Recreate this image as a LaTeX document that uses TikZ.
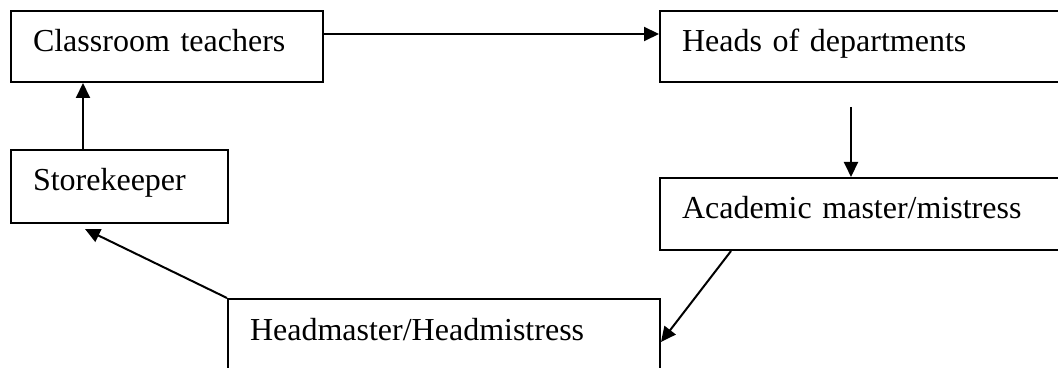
\documentclass[tikz,border=0pt]{standalone}
\usepackage{fontspec}
\setmainfont{Liberation Serif}
\usetikzlibrary{arrows.meta,positioning}

\begin{document}
\begin{tikzpicture}[x=0.5pt,y=-0.5pt,>={Triangle[length=7.5pt,width=7pt]},
                    line width=1pt,font=\fontsize{16}{19}\selectfont]
  \tikzstyle{box}=[draw,rectangle,anchor=north west,inner xsep=11pt,inner ysep=0pt,
                   text height=20.5pt,text depth=15pt,align=left]

  \clip (0,0) rectangle (1058,368);

  \node[box,text width=134pt] (CT) at (10,10) {Classroom teachers};
  \node[box,text width=188.5pt] (HD) at (659,10) {Heads of departments};
  \node[box,text width=188.5pt,text depth=15.5pt] (AM) at (659,177) {Academic master/mistress};
  \node[box,text width=194pt,text depth=25pt] (HM) at (227,298) {Headmaster/Headmistress};
  \node[box,text width=86.5pt,text depth=16pt] (SK) at (10,149) {Storekeeper};

  \draw[->] ([yshift=6.25pt]CT.east) -- ([yshift=6.25pt]HD.west);
  \draw[->] ([xshift=96pt,yshift=-12pt]HD.south west) -- ([xshift=96pt]AM.north west);
  \draw[->] ([xshift=36pt]AM.south west) -- ([yshift=-22pt]HM.north east);
  \draw[->] (HM.north west) -- ([xshift=37.5pt,yshift=-2.5pt]SK.south west);
  \draw[->] ([xshift=36.5pt]SK.north west) -- ([xshift=36.5pt]CT.south west);
\end{tikzpicture}
\end{document}
